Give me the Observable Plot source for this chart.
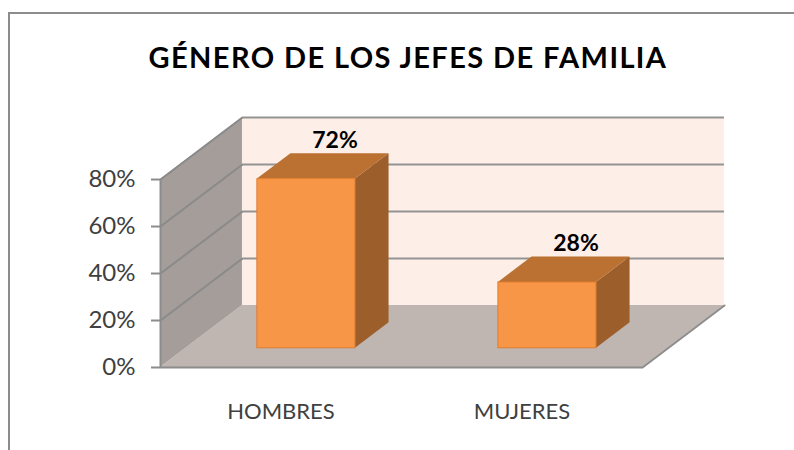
<!DOCTYPE html>
<html>
<head>
<meta charset="utf-8">
<script src="https://cdn.jsdelivr.net/npm/d3@7"></script>
<script src="https://cdn.jsdelivr.net/npm/@observablehq/plot@0.6"></script>
<style>
  html, body { margin: 0; padding: 0; background: #fff; }
  body { width: 794px; height: 450px; overflow: hidden; position: relative; font-family: Lato, "Open Sans", sans-serif; }
  #frame { position: absolute; left: 8px; top: 12px; width: 900px; height: 500px; border-left: 2px solid #8c8c8c; border-top: 2px solid #8c8c8c; }
  #title { position: absolute; left: 0; top: 40px; width: 816px; text-align: center; font-weight: 700; font-size: 29px; line-height: 34px; letter-spacing: 1.4px; color: #000; white-space: nowrap; }
  #chart { position: absolute; left: 0; top: 90px; }
</style>
</head>
<body>
<div id="frame"></div>
<div id="title">GÉNERO DE LOS JEFES DE FAMILIA</div>
<div id="chart"></div>
<script>
const categories = ["HOMBRES", "MUJERES"];
const values = [0.72, 0.28];
const valueLabels = ["72%", "28%"];
const yTicks = [0, 0.2, 0.4, 0.6, 0.8];
const yTickLabels = ["0%", "20%", "40%", "60%", "80%"];

// 3-D look: depth shift expressed in data units (one category band = 1 on x)
const DX = 0.34, DY = 0.264;
const F = 0.31, B = 0.72;   // bar front / back depth fraction
const BW = 0.407;           // bar width as a fraction of the band
const n = categories.length;
const yMax = d3.max(yTicks);

const rows = categories.map((c, i) => ({
  i, c, v: values[i], label: valueLabels[i],
  x1: i + (1 - BW) / 2, x2: i + (1 + BW) / 2
}));
const topPts = rows.flatMap(d => [
  {i: d.i, y: d.v + F * DY, x1: d.x1 + F * DX, x2: d.x2 + F * DX},
  {i: d.i, y: d.v + B * DY, x1: d.x1 + B * DX, x2: d.x2 + B * DX}
]);
const sidePts = rows.flatMap(d => [
  {i: d.i, x: d.x2 + F * DX, y1: F * DY, y2: d.v + F * DY},
  {i: d.i, x: d.x2 + B * DX, y1: B * DY, y2: d.v + B * DY}
]);

const chart = Plot.plot({
  width: 794, height: 360,
  marginLeft: 160, marginRight: 70, marginTop: 27, marginBottom: 83,
  x: {domain: [0, n + DX], axis: null},
  y: {domain: [0, yMax + DY]},
  style: {fontFamily: "Lato, sans-serif", background: "transparent", overflow: "visible"},
  marks: [
    // back wall
    Plot.rect([0], {x1: DX, x2: n + DX, y1: DY, y2: yMax + DY, fill: "#fdeee8"}),
    // floor
    Plot.areaX([{y: 0, x1: 0, x2: n}, {y: DY, x1: DX, x2: n + DX}], {y: "y", x1: "x1", x2: "x2", fill: "#bfb5b1"}),
    // side wall
    Plot.areaY([{x: 0, y1: 0, y2: yMax}, {x: DX, y1: DY, y2: yMax + DY}], {x: "x", y1: "y1", y2: "y2", fill: "#a59d99"}),
    // gridlines
    Plot.ruleY(yTicks.slice(1), {y: t => t + DY, x1: DX, x2: n + DX, stroke: "#939393", strokeWidth: 2}),
    Plot.link(yTicks.slice(1), {x1: 0, y1: t => t, x2: DX, y2: t => t + DY, stroke: "#8a8a8a", strokeWidth: 2}),
    // floor outline
    Plot.line([{x: 0, y: 0}, {x: n, y: 0}, {x: n + DX, y: DY}], {x: "x", y: "y", stroke: "#8c8c8c", strokeWidth: 2}),
    // axis line + ticks
    Plot.ruleX([0], {y1: 0, y2: yMax, stroke: "#8c8c8c", strokeWidth: 2}),
    Plot.axisY(yTicks, {anchor: "left", tickSize: 9, tickPadding: 16, tickFormat: t => yTickLabels[yTicks.indexOf(t)], stroke: "#8c8c8c", strokeWidth: 2, fill: "#404040", fontSize: 24, label: null}),
    // bars
    Plot.areaY(sidePts, {x: "x", y1: "y1", y2: "y2", z: "i", fill: "#9c5f2b"}),
    Plot.areaX(topPts, {y: "y", x1: "x1", x2: "x2", z: "i", fill: "#ba7131"}),
    Plot.rect(rows, {x1: d => d.x1 + F * DX, x2: d => d.x2 + F * DX, y1: F * DY, y2: d => d.v + F * DY, fill: "#f79646", stroke: "#e27d2f", strokeWidth: 1}),
    // value labels
    Plot.text(rows, {x: d => d.i + 0.5 + B * DX, y: d => d.v + B * DY, text: "label", dx: -5, dy: -6, lineAnchor: "bottom", fontSize: 23, fontWeight: 700, fill: "#000"}),
    // category labels
    Plot.text(rows, {x: d => d.i + 0.5, y: 0, text: "c", dy: 51, lineAnchor: "bottom", fontSize: 22, fill: "#404040"})
  ]
});
document.getElementById("chart").appendChild(chart);
</script>
</body>
</html>
